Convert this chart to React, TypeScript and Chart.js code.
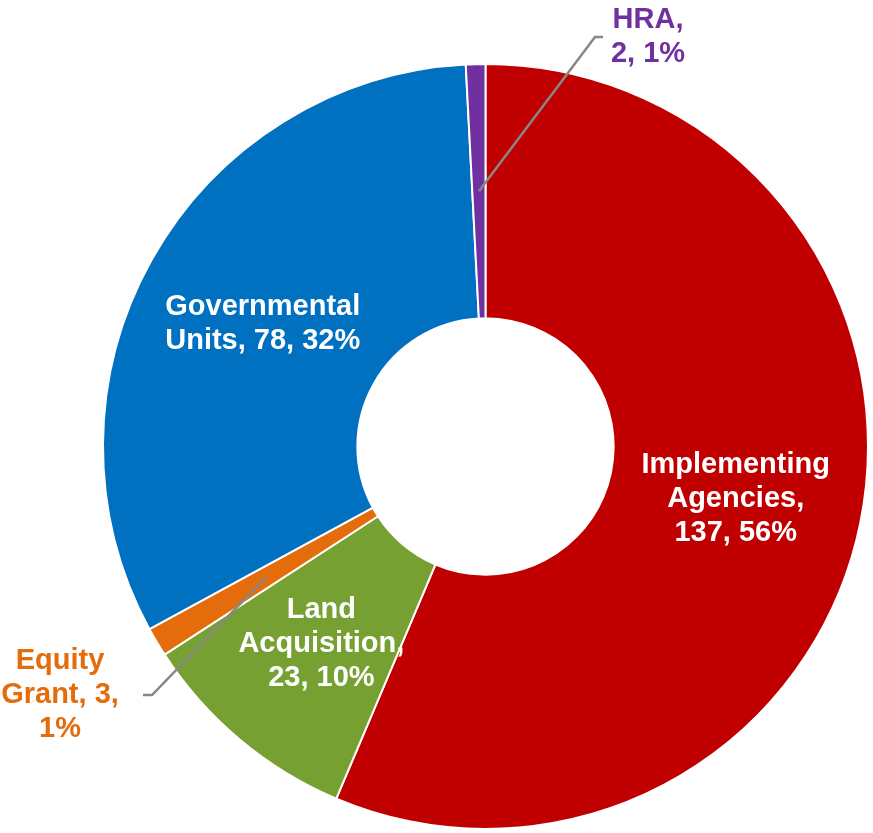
import React, { useEffect, useRef } from "react";
import { Chart, registerables } from "chart.js";

Chart.register(...registerables);

const categories = ["Implementing Agencies", "Land Acquisition", "Equity Grant", "Governmental Units", "HRA"];
const labelLines = [
  ["Implementing", "Agencies,", "137, 56%"],
  ["Land", "Acquisition,", "23, 10%"],
  ["Equity", "Grant, 3,", "1%"],
  ["Governmental", "Units, 78, 32%"],
  ["HRA,", "2, 1%"],
];
const values = [137, 23, 3, 78, 2];
const colors = ["#C00000", "#77A033", "#E46C0A", "#0070C0", "#7030A0"];
const labelColors = ["#FFFFFF", "#FFFFFF", "#E46C0A", "#FFFFFF", "#7030A0"];
// outside label config: elbow offset from chart centre, horizontal tail, text offset from tail end
const outside: Record<number, { elbow: [number, number]; tail: number; text: [number, number] }> = {
  2: { elbow: [-333.5, 248.5], tail: -9, text: [-83, 0] },
  4: { elbow: [109.5, -409.5], tail: 8, text: [45, 0] },
};

const FONT = "bold 29px 'Liberation Sans', Arial, sans-serif";
const LINE_H = 34;

const labelPlugin = {
  id: "sliceLabels",
  afterDatasetsDraw(chart: any) {
    const ctx = chart.ctx;
    const meta = chart.getDatasetMeta(0);
    ctx.save();
    ctx.font = FONT;
    ctx.textAlign = "center";
    ctx.textBaseline = "middle";
    meta.data.forEach((arc: any, i: number) => {
      const pos = arc.tooltipPosition(true);
      const lines = labelLines[i];
      let cx = pos.x;
      let cy = pos.y + 2;
      const o = outside[i];
      if (o) {
        const ex = arc.x + o.elbow[0];
        const ey = arc.y + o.elbow[1];
        ctx.strokeStyle = "#878787";
        ctx.lineWidth = 2.5;
        ctx.beginPath();
        ctx.moveTo(pos.x, pos.y);
        ctx.lineTo(ex, ey);
        ctx.lineTo(ex + o.tail, ey);
        ctx.stroke();
        cx = ex + o.tail + o.text[0];
        cy = ey + o.text[1];
      }
      ctx.fillStyle = labelColors[i];
      const startY = cy - ((lines.length - 1) * LINE_H) / 2;
      lines.forEach((l, k) => ctx.fillText(l, cx, startY + k * LINE_H));
    });
    ctx.restore();
  },
};

export default function App() {
  const ref = useRef<HTMLCanvasElement>(null);
  useEffect(() => {
    if (!ref.current) return;
    const chart = new Chart(ref.current, {
      type: "doughnut",
      data: {
        labels: categories,
        datasets: [
          {
            data: values,
            backgroundColor: colors,
            borderColor: "#FFFFFF",
            borderWidth: 2,
          },
        ],
      },
      options: {
        responsive: false,
        animation: false,
        cutout: "33.5%",
        layout: { padding: { left: 102, right: 4, top: 63, bottom: 3 } },
        plugins: {
          legend: { display: false },
          tooltip: { enabled: false },
        },
      },
      plugins: [labelPlugin],
    });
    return () => chart.destroy();
  }, []);
  return (
    <div style={{ position: "fixed", left: 0, top: 0, width: 873, height: 833, background: "#fff" }}>
      <canvas ref={ref} width={873} height={833} />
    </div>
  );
}
